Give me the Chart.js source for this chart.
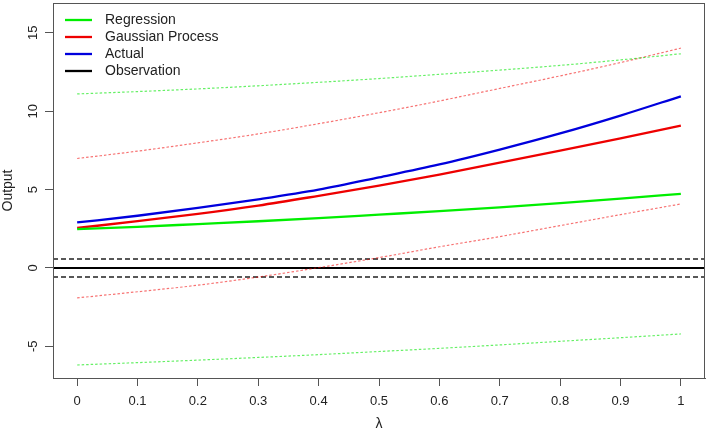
<!DOCTYPE html>
<html lang="en">
<head>
    <meta charset="UTF-8">
    <title>Output vs lambda</title>
    <script src="https://cdn.jsdelivr.net/npm/chart.js"></script>
    <style>
        body { margin: 0; background: #fff; }
    </style>
</head>
<body>
    <canvas id="lambdaChart" width="709" height="431"></canvas>
    <script>
        // lambda grid and values
        const lambdas = [0, 0.1, 0.2, 0.3, 0.4, 0.5, 0.6, 0.7, 0.8, 0.9, 1];
        const actual = [2.9, 3.33, 3.83, 4.38, 5.0, 5.78, 6.6, 7.55, 8.58, 9.72, 10.95];
        const gpMean = [2.55, 2.98, 3.45, 3.98, 4.6, 5.25, 5.96, 6.72, 7.48, 8.27, 9.08];
        const gpUpper = [6.98, 7.45, 7.98, 8.55, 9.2, 9.9, 10.65, 11.45, 12.25, 13.1, 14.02];
        const gpLower = [-1.91, -1.52, -1.1, -0.58, 0.02, 0.66, 1.35, 2.0, 2.7, 3.4, 4.08];
        const regMean = [2.47, 2.62, 2.8, 2.98, 3.18, 3.4, 3.62, 3.86, 4.13, 4.42, 4.73];
        const regUpper = [11.1, 11.25, 11.42, 11.62, 11.84, 12.08, 12.35, 12.62, 12.92, 13.27, 13.66];
        const regLower = [-6.19, -6.04, -5.88, -5.71, -5.53, -5.33, -5.13, -4.91, -4.68, -4.45, -4.21];
        const observation = 0;
        const obsBand = 0.57;

        const xTicks = [0, 0.1, 0.2, 0.3, 0.4, 0.5, 0.6, 0.7, 0.8, 0.9, 1];
        const yTicks = [-5, 0, 5, 10, 15];
        const xMin = -0.04, xMax = 1.04;
        const yMin = -7.02, yMax = 16.9;

        const legendLabels = ['Regression', 'Gaussian Process', 'Actual', 'Observation'];
        const legendColors = ['#00ee00', '#ee0000', '#0000dd', '#000000'];

        const FONT = "'Liberation Sans', Arial, sans-serif";
        const AXIS = '#555';

        function pts(ys) {
            return lambdas.map((x, i) => ({ x: x, y: ys[i] }));
        }
        function flat(y) {
            return [{ x: xMin, y: y }, { x: xMax, y: y }];
        }

        function solid(data, color) {
            return { data: pts(data), borderColor: color, borderWidth: 2.3, cubicInterpolationMode: 'monotone' };
        }
        function dotted(data, color) {
            return { data: pts(data), borderColor: color, borderWidth: 1.2, borderDash: [2.5, 2], cubicInterpolationMode: 'monotone' };
        }

        const frame = {
            id: 'frame',
            afterDraw(chart) {
                const ctx = chart.ctx;
                const a = chart.chartArea;
                const ys = chart.scales.y;
                ctx.save();
                ctx.strokeStyle = AXIS;
                ctx.lineWidth = 1;
                ctx.strokeRect(a.left + 0.5, a.top + 0.5, a.right - a.left - 1, a.bottom - a.top);

                // rotated y tick labels, R style
                ctx.fillStyle = '#222';
                ctx.font = '13px ' + FONT;
                ctx.textAlign = 'center';
                ctx.textBaseline = 'middle';
                yTicks.forEach(v => {
                    const py = ys.getPixelForValue(v);
                    ctx.save();
                    ctx.translate(a.left - 20, py);
                    ctx.rotate(-Math.PI / 2);
                    ctx.fillText(String(v), 0, 0);
                    ctx.restore();
                });

                // legend in the top left corner, no box
                ctx.font = '14px ' + FONT;
                ctx.textAlign = 'left';
                legendLabels.forEach((lab, i) => {
                    const y = a.top + 17 + i * 17;
                    ctx.strokeStyle = legendColors[i];
                    ctx.lineWidth = 2.3;
                    ctx.beginPath();
                    ctx.moveTo(a.left + 12, y);
                    ctx.lineTo(a.left + 39, y);
                    ctx.stroke();
                    ctx.fillStyle = '#222';
                    ctx.fillText(lab, a.left + 52, y);
                });
                ctx.restore();
            }
        };

        new Chart(document.getElementById('lambdaChart'), {
            type: 'line',
            data: {
                datasets: [
                    dotted(regUpper, 'rgba(0,230,0,0.6)'),
                    dotted(regLower, 'rgba(0,230,0,0.6)'),
                    dotted(gpUpper, 'rgba(240,0,0,0.55)'),
                    dotted(gpLower, 'rgba(240,0,0,0.55)'),
                    { data: flat(observation), borderColor: '#000', borderWidth: 2 },
                    { data: flat(observation + obsBand), borderColor: '#222', borderWidth: 1.5, borderDash: [5, 3] },
                    { data: flat(observation - obsBand), borderColor: '#222', borderWidth: 1.5, borderDash: [5, 3] },
                    solid(actual, '#0000dd'),
                    solid(regMean, '#00ee00'),
                    solid(gpMean, '#ee0000')
                ]
            },
            options: {
                responsive: false,
                animation: false,
                elements: { point: { radius: 0 } },
                layout: { padding: { top: 3, right: 4, left: 0, bottom: 0 } },
                plugins: { legend: { display: false }, tooltip: { enabled: false } },
                scales: {
                    x: {
                        type: 'linear',
                        min: xMin,
                        max: xMax,
                        afterBuildTicks: s => { s.ticks = xTicks.map(v => ({ value: v })); },
                        afterFit: s => { s.height = 53; },
                        grid: { drawOnChartArea: false, drawTicks: true, tickLength: 8, color: AXIS },
                        border: { display: true, color: AXIS },
                        ticks: {
                            padding: 8,
                            maxRotation: 0,
                            color: '#222',
                            font: { family: FONT, size: 13 },
                            callback: v => String(Math.round(v * 10) / 10)
                        },
                        title: {
                            display: true,
                            text: 'λ',
                            color: '#222',
                            font: { family: FONT, size: 14, lineHeight: 1 },
                            padding: { top: 0, bottom: 0 }
                        }
                    },
                    y: {
                        min: yMin,
                        max: yMax,
                        afterBuildTicks: s => { s.ticks = yTicks.map(v => ({ value: v })); },
                        afterFit: s => { s.width = 53; },
                        grid: { drawOnChartArea: false, drawTicks: true, tickLength: 8, color: AXIS },
                        border: { display: true, color: AXIS },
                        ticks: { display: false },
                        title: {
                            display: true,
                            text: 'Output',
                            color: '#222',
                            font: { family: FONT, size: 14, lineHeight: 1.2 },
                            padding: { top: 0, bottom: 0 }
                        }
                    }
                }
            },
            plugins: [frame]
        });
    </script>
</body>
</html>
